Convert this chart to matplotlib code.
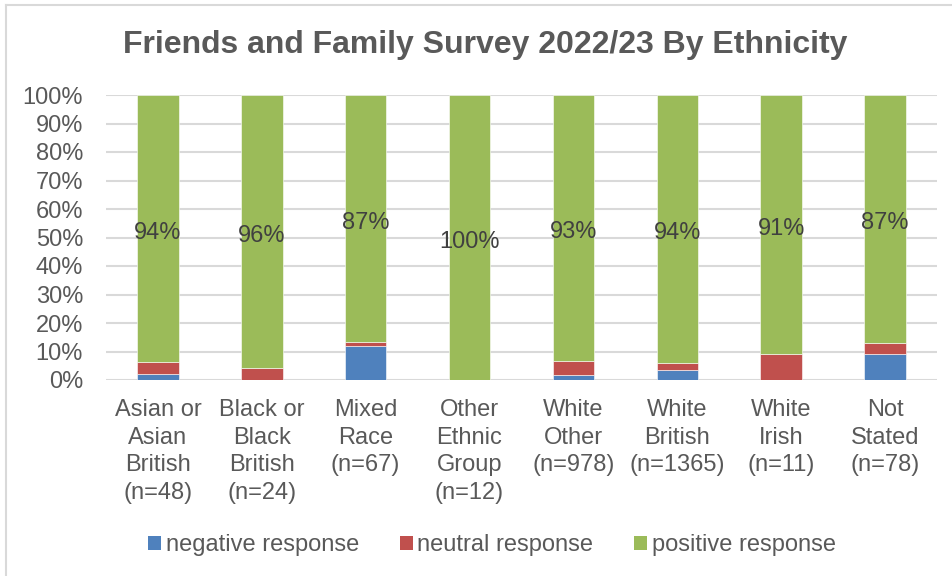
import matplotlib.pyplot as plt
from matplotlib.lines import Line2D
from matplotlib.patches import Patch
import numpy as np

plt.rcParams['font.family'] = ['Liberation Sans', 'DejaVu Sans']

groups = ["Asian or\nAsian\nBritish\n(n=48)", "Black or\nBlack\nBritish\n(n=24)",
          "Mixed\nRace\n(n=67)", "Other\nEthnic\nGroup\n(n=12)",
          "White\nOther\n(n=978)", "White\nBritish\n(n=1365)",
          "White\nIrish\n(n=11)", "Not\nStated\n(n=78)"]
negative = [2.08, 0.0, 11.94, 0.0, 1.74, 3.37, 0.0, 8.97]
neutral = [4.17, 4.17, 1.49, 0.0, 5.01, 2.49, 9.09, 3.85]
positive = [93.75, 95.83, 86.57, 100.0, 93.25, 94.14, 90.91, 87.18]

c_neg = "#4f81bd"
c_neu = "#c0504d"
c_pos = "#9bbb59"
grey = "#595959"
fs = 17

fig = plt.figure(figsize=(9.53, 5.76), dpi=100)
ax = fig.add_axes([106 / 953, 1 - 380 / 576, 831 / 953, 285 / 576])

x = np.arange(len(groups))
neg = np.array(negative)
neu = np.array(neutral)
pos = np.array(positive)
w = 0.4
ax.bar(x, neg, w, color=c_neg, edgecolor="white", linewidth=0.4, zorder=3)
ax.bar(x, neu, w, bottom=neg, color=c_neu, edgecolor="white", linewidth=0.4, zorder=3)
ax.bar(x, pos, w, bottom=neg + neu, color=c_pos, edgecolor="white", linewidth=0.4, zorder=3)

# data labels sit in the middle of the positive segment
for xi, b, p in zip(x, neg + neu, pos):
    ax.annotate(f"{p:.0f}%", (xi, b + p / 2), xytext=(0, -3), textcoords="offset points",
                ha="center", va="center", fontsize=fs, color="#404040", zorder=4)

ax.set_xlim(-0.5, len(groups) - 0.5)
ax.set_ylim(0, 100)
ax.set_yticks(np.arange(0, 101, 10))
ax.set_yticklabels([f"{v}%" for v in range(0, 101, 10)])
ax.set_xticks(x)
ax.set_xticklabels(groups, linespacing=1.32)
ax.tick_params(axis="both", length=0, labelsize=fs, labelcolor=grey)
ax.tick_params(axis="y", pad=16.5)
ax.tick_params(axis="x", pad=14)
ax.grid(axis="y", color="#d9d9d9", linewidth=1.5, zorder=0)
for s in ax.spines.values():
    s.set_visible(False)

fig.text(0.509, 1 - 45 / 576, "Friends and Family Survey 2022/23 By Ethnicity",
         ha="center", va="center", fontsize=23, fontweight="bold", color=grey)

handles = [Patch(facecolor=c, edgecolor="none") for c in (c_neg, c_neu, c_pos)]
fig.legend(handles, ["negative response", "neutral response", "positive response"],
           loc="center", bbox_to_anchor=(0.516, 1 - 545 / 576), ncol=3, frameon=False,
           fontsize=fs, labelcolor=grey, handlelength=0.55, handleheight=0.55,
           handletextpad=0.2, columnspacing=1.72)

# chart area outline (top and left edges)
fig.add_artist(Line2D([6 / 953, 6 / 953], [0, 1 - 5 / 576], transform=fig.transFigure,
                      color="#d9d9d9", linewidth=1.5))
fig.add_artist(Line2D([6 / 953, 1], [1 - 5 / 576, 1 - 5 / 576], transform=fig.transFigure,
                      color="#d9d9d9", linewidth=1.5))

fig.savefig("out.png", dpi=100, facecolor="white")
